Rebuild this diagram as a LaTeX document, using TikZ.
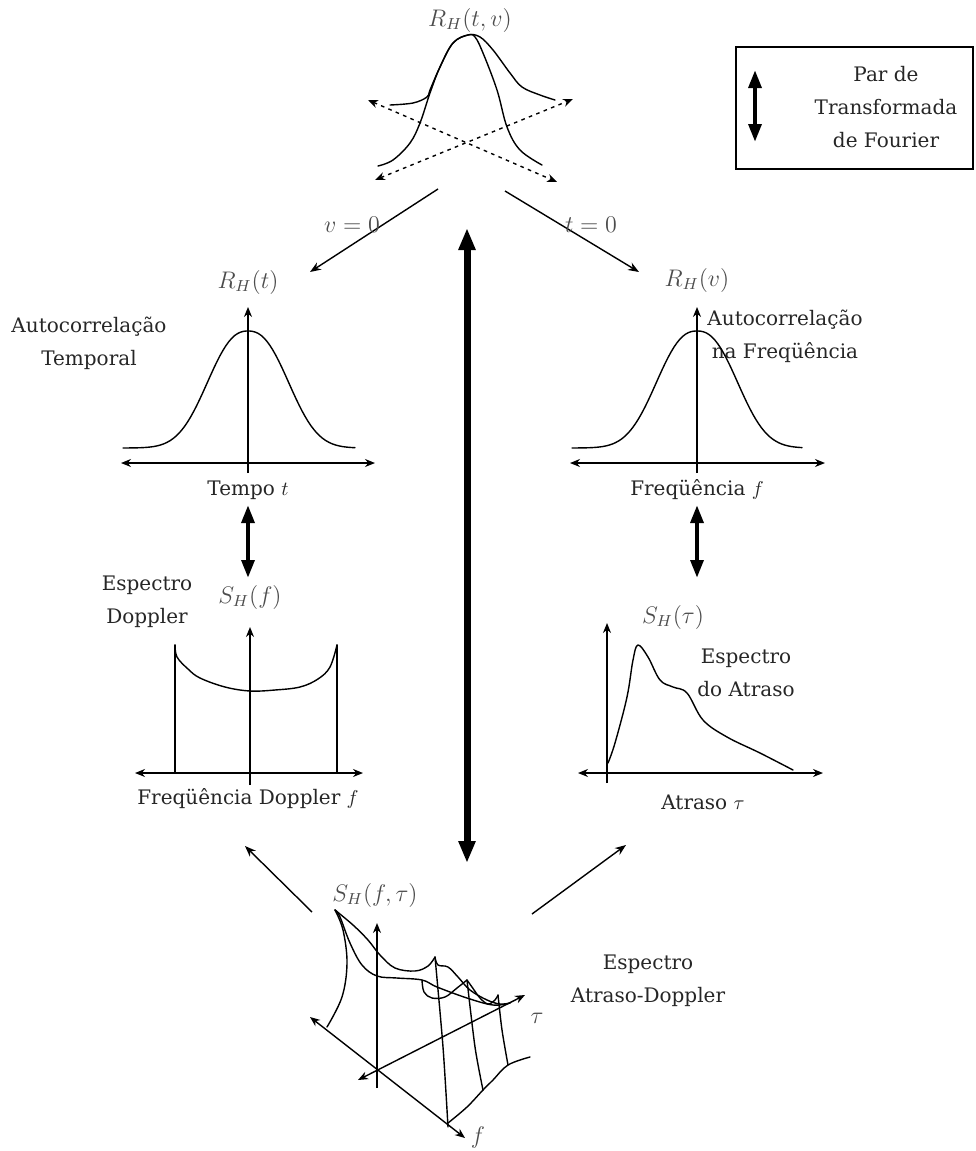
\documentclass[tikz,border=0pt]{standalone}
\usepackage{fontspec}
\setmainfont{DejaVu Serif}
\usetikzlibrary{arrows.meta}
\tikzset{
  txt/.style={text=black!85,font=\fontsize{10}{16.5}\selectfont,align=center,inner sep=0pt},
  mlbl/.style={text=black!70,font=\fontsize{11.5}{13}\selectfont,inner sep=0pt},
  curve/.style={line width=0.7pt,line join=round,line cap=round},
  axis/.style={line width=0.7pt,-{Stealth[length=5pt,width=4pt]}},
  axisb/.style={line width=0.7pt,{Stealth[length=5pt,width=4pt]}-{Stealth[length=5pt,width=4pt]}},
  conn/.style={line width=0.7pt,-{Stealth[length=5.5pt,width=4.2pt]}},
  dotarr/.style={line width=0.7pt,dash pattern=on 1.8pt off 2.2pt,
    {Stealth[length=5pt,width=4pt]}-{Stealth[length=5pt,width=4pt]}},
  fourier/.style={line width=2.1pt,{Triangle[length=9pt,width=6.3pt]}-{Triangle[length=9pt,width=6.3pt]}},
  bigfourier/.style={line width=3.5pt,{Triangle[length=11pt,width=8pt]}-{Triangle[length=11pt,width=8pt]}}
}

\begin{document}
\begin{tikzpicture}[x=0.5pt,y=-0.5pt]
  \useasboundingbox (0,0) rectangle (975,1151);

  % legend
  \draw[line width=1pt] (736,47) rectangle (973,169);
  \coordinate (leg-a) at (755,70);
  \coordinate (leg-b) at (755,142);
  \draw[fourier] (leg-a) -- (leg-b);
  \node[txt] (legend) at (886,107) {Par de\\Transformada\\de Fourier};

  % R_H(t,v)
  \node[mlbl] (Rtv) at (470,20) {$R_H(t,v)$};
  \draw[curve] plot[smooth,tension=0.6] coordinates {(390,105) (413,103) (427,97) (430,90)
    (440,67) (453,43) (468,35) (480,37) (493,50) (510,73) (522,87) (540,95) (555,100)};
  \draw[curve] plot[smooth,tension=0.6] coordinates {(378,166) (393,160) (410,143) (420,123)
    (430,93) (440,67) (453,43) (468,35) (475,37) (483,53) (497,90) (507,127) (520,150) (542,165)};
  \coordinate (d1-a) at (368,100);
  \coordinate (d1-b) at (557,182);
  \coordinate (d2-a) at (375,180);
  \coordinate (d2-b) at (573,99);
  \draw[dotarr] (d1-a) -- (d1-b);
  \draw[dotarr] (d2-a) -- (d2-b);

  % v=0 and t=0
  \coordinate (vz-a) at (438,189);
  \coordinate (vz-b) at (310,272);
  \coordinate (tz-a) at (505,191);
  \coordinate (tz-b) at (639,272);
  \draw[conn] (vz-a) -- (vz-b);
  \draw[conn] (tz-a) -- (tz-b);
  \node[mlbl] (vzero) at (352,225) {$v=0$};
  \node[mlbl] (tzero) at (591,225) {$t=0$};

  % big transform pair
  \coordinate (big-a) at (467,228);
  \coordinate (big-b) at (467,863);
  \draw[bigfourier] (big-a) -- (big-b);

  % R_H(t)
  \node[mlbl] (Rt) at (248,282) {$R_H(t)$};
  \node[txt] (autot) at (89,343) {Autocorrelação\\Temporal};
  \draw[axis] (248,473) -- (248,307);
  \draw[axisb] (121,463) -- (375,463);
  \draw[curve] plot[domain=123:355,samples=80] (\x,{448-117*exp(-(abs(\x-248)/51)^2.4)});
  \node[txt] (tempo) at (248,490) {Tempo $t$};

  % R_H(v)
  \node[mlbl] (Rv) at (697,280) {$R_H(v)$};
  \node[txt] (autof) at (785,336) {Autocorrelação\\na Freqüência};
  \draw[axis] (697,473) -- (697,307);
  \draw[axisb] (570,463) -- (825,463);
  \draw[curve] plot[domain=572:802,samples=80] (\x,{448-117*exp(-(abs(\x-697)/51)^2.4)});
  \node[txt] (freq) at (697,490) {Freqüência $f$};

  % small transform pairs
  \coordinate (ft-a) at (248,505);
  \coordinate (ft-b) at (248,578);
  \coordinate (ff-a) at (697,505);
  \coordinate (ff-b) at (697,578);
  \draw[fourier] (ft-a) -- (ft-b);
  \draw[fourier] (ff-a) -- (ff-b);

  % S_H(f)
  \node[mlbl] (Sf) at (250,597) {$S_H(f)$};
  \node[txt] (doppler) at (147,602) {Espectro\\Doppler};
  \draw[axis] (250,785) -- (250,627);
  \draw[axisb] (135,773) -- (363,773);
  \draw[curve] (175,773) -- (175,645);
  \draw[curve] (337,773) -- (337,645);
  \draw[curve] plot[smooth,tension=0.6] coordinates {(175,645) (177,657) (188,669) (200,678)
    (225,687) (250,691) (275,690) (300,687) (318,679) (330,667) (337,645)};
  \node[txt] (freqd) at (248,799) {Freqüência Doppler $f$};

  % S_H(tau)
  \node[mlbl] (Stau) at (673,617) {$S_H(\tau)$};
  \node[txt] (atraso) at (746,673) {Espectro\\do Atraso};
  \draw[axis] (607,783) -- (607,623);
  \draw[axisb] (578,773) -- (823,773);
  \draw[curve] plot[smooth,tension=0.6] coordinates {(608,763) (615,743) (627,697) (633,660)
    (638,645) (648,657) (660,680) (673,687) (687,693) (703,720) (727,737) (760,753) (793,770)};
  \node[txt] (atrtau) at (703,802) {Atraso $\tau$};

  % towards the bottom
  \coordinate (bl-a) at (312,912);
  \coordinate (bl-b) at (245,846);
  \coordinate (br-a) at (532,914);
  \coordinate (br-b) at (626,845);
  \draw[conn] (bl-a) -- (bl-b);
  \draw[conn] (br-a) -- (br-b);

  % S_H(f,tau)
  \node[mlbl] (Sftau) at (375,895) {$S_H(f,\tau)$};
  \node[txt] (atrdop) at (648,981) {Espectro\\Atraso-Doppler};
  \draw[axis] (377,1088) -- (377,923);
  \draw[axisb] (310,1017) -- (465,1138);
  \draw[axisb] (358,1080) -- (525,995);
  \node[mlbl] (taulbl) at (537,1018) {$\tau$};
  \node[mlbl] (flbl) at (478,1137) {$f$};
  \draw[curve] plot[smooth,tension=0.6] coordinates {(327,1027) (342,997) (347,963) (343,930) (335,910)};
  \draw[curve] plot[smooth,tension=0.6] coordinates {(335,910) (353,925) (368,940) (380,955)
    (395,968) (415,971) (428,966) (435,957)};
  \draw[curve] plot[smooth,tension=0.6] coordinates {(335,910) (340,917) (350,943) (362,965)
    (377,976) (397,978) (422,980) (437,987) (467,998) (493,1005) (510,1003)};
  \draw[curve] plot[smooth,tension=0.6] coordinates {(435,957) (438,965) (448,967) (458,977)
    (470,990) (487,1000) (500,1004) (510,1003)};
  \draw[curve] plot[smooth,tension=0.6] coordinates {(422,980) (424,992) (432,998) (445,997)
    (457,988) (467,980)};
  \draw[curve] plot[smooth,tension=0.6] coordinates {(467,980) (472,987) (480,998) (488,1004)
    (495,1000) (498,995)};
  \draw[curve] plot[smooth,tension=0.5] coordinates {(435,957) (443,1047) (448,1127)};
  \draw[curve] plot[smooth,tension=0.5] coordinates {(467,980) (475,1047) (483,1090)};
  \draw[curve] plot[smooth,tension=0.5] coordinates {(498,995) (502,1030) (508,1065)};
  \draw[curve] plot[smooth,tension=0.6] coordinates {(448,1123) (467,1107) (483,1090)
    (493,1080) (508,1065) (530,1057)};
\end{tikzpicture}
\end{document}
